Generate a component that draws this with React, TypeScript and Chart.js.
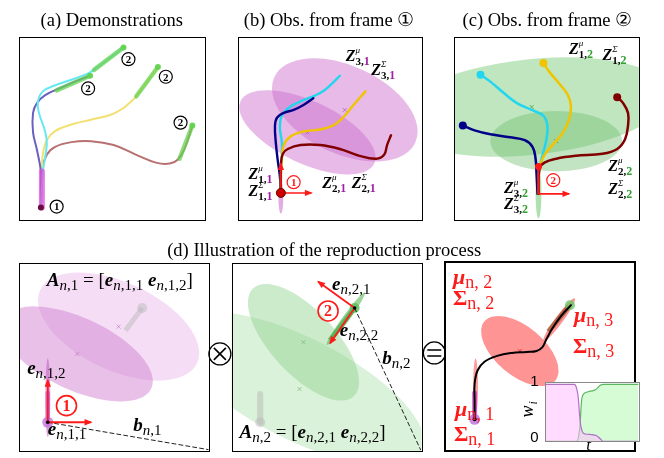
import React, { useEffect, useRef } from "react";
import { Chart, registerables } from "chart.js";

Chart.register(...registerables);

type P = [number, number];
type Seg2 = [P, P];
type Ell = [number, number, number, number, number]; // cx, cy, semi-major, semi-minor, angle(deg)

const W = 664;
const H = 458;

// ---------------- (a) demonstrations ----------------
const demoBrown: P[] = [[36,207],[37,186],[37,168],[42,153],[50,145],[67,140],[87,139],[110,143],[133,153],[153,161],[167,162],[175,158],[182,147],[190,123]];
const demoYellow: P[] = [[36,207],[37,186],[37,168],[38,152],[42,138],[50,129],[67,122],[87,117],[107,112],[120,105],[128,98],[133,93],[155,63]];
const demoBlue: P[] = [[36,207],[36,186],[36,170],[32,148],[28,130],[28,110],[32,100],[40,92],[57,84],[73,77],[86,72]];
const demoCyan: P[] = [[36,207],[37,186],[38,170],[42,142],[40,128],[34,110],[33,98],[38,88],[50,82],[70,75],[83,70],[90,66],[120,43]];
const demoStartSeg: P[] = [[37,170],[37,207]];
const demoEndSegs: Seg2[] = [[[90,66],[120,43]],[[52,87],[86,72]],[[133,93],[155,63]],[[177,157],[190,123]]];
const demoEndDots: P[] = [[120,43],[86,72],[155,63],[190,123]];
const demoStartDot: P[] = [[36,207]];

// ---------------- (b) observed from frame 1 ----------------
const obs1Navy: P[] = [[280,192],[279,175],[277,160],[275,142],[274,124],[276,115],[283,110],[293,107],[303,102],[313,95]];
const obs1Cyan: P[] = [[280,192],[280,175],[281,155],[281,140],[279,125],[281,113],[289,104],[303,97],[315,92],[324,87],[332,80],[340,72]];
const obs1Yellow: P[] = [[280,192],[280,175],[281,158],[283,143],[290,134],[303,129],[320,127],[333,123],[343,115],[353,103],[366,88]];
const obs1Red: P[] = [[280,192],[280,175],[280,163],[282,152],[287,147],[300,143],[320,143],[340,147],[360,154],[377,157],[385,153],[388,143],[392,133]];
const ellipsesB: Ell[] = [[345,107,79,45,25],[307,130,75,32,25],[280,197,16,2.5,90]];
const centersB: P[] = [[345,107],[307,130]];
const frameAxesB: Seg2[] = [[[280,192],[280,162]],[[280,192],[311,192]]];
const originB: P[] = [[280,192]];

// ---------------- (c) observed from frame 2 ----------------
const obs2Navy: P[] = [[465,123],[477,128],[493,132],[513,135],[528,138],[536,145],[539,157],[540,173],[541,193]];
const obs2Cyan: P[] = [[483,71],[493,78],[507,90],[520,100],[535,107],[547,113],[551,123],[550,137],[547,150],[544,162],[542,176],[542,193]];
const obs2Yellow: P[] = [[547,59],[553,68],[563,80],[572,92],[575,104],[573,117],[567,130],[557,142],[548,153],[544,163],[542,176],[542,193]];
const obs2Red: P[] = [[622,94],[628,100],[633,110],[633,123],[630,137],[622,147],[607,152],[580,154],[560,157],[548,161],[543,167],[542,193]];
const ellipsesC: Ell[] = [[535,104,140,49,-6],[560,139,67,31,0],[542,192,26,3,90]];
const centersC: P[] = [[535,104],[560,139]];
const frameAxesC: Seg2[] = [[[542,193],[542,166]],[[542,193],[573,193]]];
const originC: P[] = [[542,165]];

// ---------------- (d) reproduction ----------------
const ellipsesD1: Ell[] = [[115,329,88,45,25],[73,357,83,37,25],[43,402,40,2.5,90]];
const centersD1: P[] = [[115,329],[73,357]];
const ghostD1: P[] = [[139,310],[122,333]];
const ghostDotD1: P[] = [[139,310]];
const segD1: P[] = [[43,397],[43,427]];
const originD1: P[] = [[43,427]];
const frameAxesD1: Seg2[] = [[[43,427],[43,384]],[[43,427],[87,427]]];
const dashD1: P[] = [[43,427],[206,455]];

const ellipsesD2: Ell[] = [[299,393,140,52,27],[303,345,75,33,47],[346,321,33,3.5,-54]];
const centersD2: P[] = [[299,393],[303,345]];
const ghostD2: P[] = [[259,398],[259,427]];
const ghostDotD2: P[] = [[259,427]];
const segD2: P[] = [[330,343],[355,310]];
const originD2: P[] = [[355,310]];
const frameAxesD2: Seg2[] = [[[355,310],[318,283]],[[355,310],[330,346]]];
const dashD2: P[] = [[355,310],[422,455]];

const ellipsesD3: Ell[] = [[523,354,47,25,40],[563,322,27,4,-54],[478,390,28,2.5,90]];
const centersD3: P[] = [[523,354]];
const repro: P[] = [[477,424],[477,405],[477,388],[480,374],[487,365],[500,359],[515,356],[530,355],[540,354],[546,350],[550,342],[556,331],[565,318],[575,307]];
const segStartD3: P[] = [[477,397],[477,423]];
const segEndD3: P[] = [[552,334],[573,308]];
const startDotD3: P[] = [[477,424]];
const endDotD3: P[] = [[574,307]];

// ---------------- inset: activation weights ----------------
const weightT1 = [0, 0.314, 0.339, 0.357, 0.368, 0.382, 0.4, 0.429, 0.5, 0.554, 0.589, 0.625, 1];
const weight1 = [1, 1, 0.93, 0.76, 0.52, 0.29, 0.17, 0.13, 0.12, 0.1, 0.05, 0, 0];
const weightT2 = [0, 0.339, 0.357, 0.375, 0.393, 0.421, 0.464, 0.518, 0.554, 0.589, 0.625, 1];
const weight2 = [0, 0, 0.06, 0.29, 0.73, 0.84, 0.87, 0.89, 0.92, 0.98, 1, 1];

// ---------------- layout ----------------
const PANELS: [number, number, number, number][] = [
  [14, 32, 203, 219],
  [236, 32, 423, 219],
  [456, 32, 644, 219],
  [14, 264, 207, 457],
  [230, 264, 423, 457],
  [447, 263, 640, 457],
];

const SERIF = '"Liberation Serif","DejaVu Serif",serif';
const SANS = '"Liberation Sans","DejaVu Sans",sans-serif';
const PURPLE = "#a020a8";
const GREEN = "#30a030";
const RED = "#ff1a1a";

const ELLIPSE_GROUPS = [
  { panel: 1, items: ellipsesB, fills: ["rgba(205,110,205,0.48)", "rgba(205,110,205,0.48)", "rgba(200,90,200,0.5)"], centers: centersB, mark: "rgba(170,80,170,0.8)" },
  { panel: 2, items: ellipsesC, fills: ["rgba(130,205,130,0.5)", "rgba(110,190,110,0.42)", "rgba(110,200,110,0.55)"], centers: centersC, mark: "rgba(60,150,60,0.9)" },
  { panel: 3, items: ellipsesD1, fills: ["rgba(225,160,225,0.35)", "rgba(210,130,210,0.5)", "rgba(200,100,200,0.6)"], centers: centersD1, mark: "rgba(190,120,190,0.8)" },
  { panel: 4, items: ellipsesD2, fills: ["rgba(150,215,150,0.35)", "rgba(140,210,140,0.45)", "rgba(90,185,90,0.6)"], centers: centersD2, mark: "rgba(110,180,110,0.8)" },
  { panel: 5, items: ellipsesD3, fills: ["rgba(255,60,60,0.55)", "rgba(255,60,60,0.55)", "rgba(255,60,60,0.5)"], centers: centersD3, mark: "rgba(220,30,30,0.9)" },
];

// arrows with heads: [segment, hasHead]
const ARROWS: [Seg2, boolean][] = [
  [frameAxesB[0], true], [frameAxesB[1], true],
  [frameAxesC[0], false], [frameAxesC[1], true],
  [frameAxesD1[0], true], [frameAxesD1[1], true],
  [frameAxesD2[0], true], [frameAxesD2[1], true],
];

const CIRCLED: [number, number, string, number, string][] = [
  [52, 206, "1", 6.5, "#000"],
  [125, 55, "2", 6.5, "#000"],
  [84, 85, "2", 6.5, "#000"],
  [163, 73, "2", 6.5, "#000"],
  [178, 120, "2", 6.5, "#000"],
  [293, 181, "1", 6.5, RED],
  [557, 179, "2", 6.5, RED],
  [62, 410, "1", 10, RED],
  [328, 313, "2", 10, RED],
];

const TITLES: [number, number, string][] = [
  [108, 21, "(a) Demonstrations"],
  [329, 21, "(b) Obs. from frame \u2460"],
  [551, 21, "(c) Obs. from frame \u2461"],
  [324, 257, "(d) Illustration of the reproduction process"],
];

// ---------------- rich text ----------------
type Run = { t: string; font: string; color: string; dy: number };
type Seg = Run | { stack: Run[][] };
const R = (t: string, font: string, color = "#000", dy = 0): Run => ({ t, font, color, dy });

function zLab(kind: string, i: string, frame: string, fc: string): Seg[] {
  return [
    R("Z", `bold italic 16px ${SERIF}`),
    { stack: [[R(kind, `italic 9px ${SERIF}`, "#000", -8)], [R(i + ",", `bold 11px ${SERIF}`, "#000", 4), R(frame, `bold 12px ${SERIF}`, fc, 4)]] },
  ];
}
function eLab(idx: string): Seg[] {
  return [R("e", `bold italic 19px ${SERIF}`), R("n", `italic 15px ${SERIF}`, "#000", 4), R(idx, `15px ${SERIF}`, "#000", 4)];
}
function bLab(idx: string): Seg[] {
  return [R("b", `bold italic 19px ${SERIF}`), R("n", `italic 15px ${SERIF}`, "#000", 4), R(idx, `15px ${SERIF}`, "#000", 4)];
}
function aLab(k: string): Seg[] {
  return [
    R("A", `bold italic 19px ${SERIF}`), R("n", `italic 15px ${SERIF}`, "#000", 4), R("," + k, `15px ${SERIF}`, "#000", 4),
    R(" = [", `19px ${SERIF}`),
    ...eLab("," + k + ",1"), R(" ", `19px ${SERIF}`), ...eLab("," + k + ",2"),
    R("]", `19px ${SERIF}`),
  ];
}
function redLab(sym: string, k: string, italic: boolean): Seg[] {
  return [R(sym, `${italic ? "bold italic" : "bold"} 22px ${SERIF}`, RED), R("n, " + k, `18px ${SERIF}`, RED, 4)];
}

const LABELS: [number, number, Seg[]][] = [
  [346, 57, zLab("\u03bc", "3", "1", PURPLE)],
  [372, 71, zLab("\u03a3", "3", "1", PURPLE)],
  [247, 178, zLab("\u03bc", "1", "1", PURPLE)],
  [247, 195, zLab("\u03a3", "1", "1", PURPLE)],
  [322, 187, zLab("\u03bc", "2", "1", PURPLE)],
  [352, 187, zLab("\u03a3", "2", "1", PURPLE)],
  [573, 50, zLab("\u03bc", "1", "2", GREEN)],
  [607, 56, zLab("\u03a3", "1", "2", GREEN)],
  [613, 170, zLab("\u03bc", "2", "2", GREEN)],
  [613, 193, zLab("\u03a3", "2", "2", GREEN)],
  [507, 192, zLab("\u03bc", "3", "2", GREEN)],
  [507, 209, zLab("\u03a3", "3", "2", GREEN)],
  [42, 287, aLab("1")],
  [22, 378, eLab(",1,2")],
  [43, 440, eLab(",1,1")],
  [130, 436, bLab(",1")],
  [332, 292, eLab(",2,1")],
  [340, 339, eLab(",2,2")],
  [383, 367, bLab(",2")],
  [238, 443, aLab("2")],
  [455, 285, redLab("\u03bc", "2", true)],
  [455, 307, redLab("\u03a3", "2", false)],
  [578, 324, redLab("\u03bc", "3", true)],
  [577, 356, redLab("\u03a3", "3", false)],
  [457, 421, redLab("\u03bc", "1", true)],
  [456, 446, redLab("\u03a3", "1", false)],
];

function drawRich(ctx: CanvasRenderingContext2D, x: number, y: number, segs: Seg[]) {
  ctx.textAlign = "left";
  ctx.textBaseline = "alphabetic";
  for (const s of segs) {
    if ("stack" in s) {
      let w = 0;
      for (const g of s.stack) {
        let gx = x;
        for (const r of g) {
          ctx.font = r.font; ctx.fillStyle = r.color;
          ctx.fillText(r.t, gx, y + r.dy);
          gx += ctx.measureText(r.t).width;
        }
        w = Math.max(w, gx - x);
      }
      x += w;
    } else {
      ctx.font = s.font; ctx.fillStyle = s.color;
      ctx.fillText(s.t, x, y + s.dy);
      x += ctx.measureText(s.t).width;
    }
  }
}

// ---------------- datasets ----------------
const pts = (a: P[]) => a.map(([x, y]) => ({ x, y }));

function buildDatasets() {
  const ds: any[] = [];
  const line = (data: P[], color: string, width: number, extra: any = {}) =>
    ds.push({ data: pts(data), showLine: true, borderColor: color, backgroundColor: color, borderWidth: width, pointRadius: 0, tension: 0.4, fill: false, borderCapStyle: "round", borderJoinStyle: "round", ...extra });
  const dots = (data: P[], color: string, r: number, stroke?: string) =>
    ds.push({ data: pts(data), showLine: false, pointRadius: r, pointBackgroundColor: color, pointBorderColor: stroke || color, pointBorderWidth: stroke ? 1 : 0 });
  const firstDot = (c: string) => ({ pointRadius: (c2: any) => (c2.dataIndex === 0 ? 4 : 0), pointBackgroundColor: c, pointBorderWidth: 0 });

  // (a)
  line(demoBrown, "#b87070", 2);
  line(demoYellow, "#f2e070", 2);
  line(demoBlue, "#6a60c0", 2);
  line(demoCyan, "#66e8f2", 2);
  line(demoStartSeg, "rgba(225,80,215,0.75)", 6, { tension: 0, borderCapStyle: "butt" });
  demoEndSegs.forEach((s) => line(s, "rgba(100,210,80,0.75)", 4.5, { tension: 0 }));
  dots(demoEndDots, "rgba(100,210,80,0.9)", 3);
  dots(demoStartDot, "#6a0a40", 3);

  // (b)
  line(obs1Cyan, "#22d6f0", 2.4);
  line(obs1Navy, "#000088", 2.4);
  line(obs1Yellow, "#f0c400", 2.4);
  line(obs1Red, "#800000", 2.4);
  frameAxesB.forEach((s) => line(s, RED, 1.5, { tension: 0, borderCapStyle: "butt" }));
  dots(originB, "#cc0000", 4.5, "#6a0000");

  // (c)
  line(obs2Navy, "#000088", 2.5, firstDot("#000088"));
  line(obs2Cyan, "#22d6f0", 2.5, firstDot("#22d6f0"));
  line(obs2Yellow, "#f0c400", 2.5, firstDot("#f0c400"));
  line(obs2Red, "#800000", 2.5, firstDot("#800000"));
  frameAxesC.forEach((s) => line(s, RED, 1.8, { tension: 0, borderCapStyle: "butt" }));
  dots(originC, RED, 3.5);

  // (d1)
  line(ghostD1, "rgba(185,185,185,0.5)", 5, { tension: 0, borderCapStyle: "butt" });
  dots(ghostDotD1, "rgba(185,185,185,0.5)", 5);
  line(segD1, "rgba(200,70,200,0.65)", 4.5, { tension: 0, borderCapStyle: "butt" });
  dots(originD1, "rgba(190,110,220,0.75)", 5.5);
  line(dashD1, "#222", 1, { tension: 0, borderDash: [4, 3] });
  frameAxesD1.forEach((s) => line(s, RED, 1.8, { tension: 0, borderCapStyle: "butt" }));
  dots(originD1, "#000", 1.8);

  // (d2)
  line(ghostD2, "rgba(185,185,185,0.5)", 6, { tension: 0, borderCapStyle: "butt" });
  dots(ghostDotD2, "rgba(185,185,185,0.5)", 5);
  line(segD2, "rgba(70,170,70,0.7)", 5, { tension: 0, borderCapStyle: "butt" });
  dots(originD2, "rgba(90,190,90,0.8)", 5);
  line(dashD2, "#222", 1, { tension: 0, borderDash: [4, 3] });
  frameAxesD2.forEach((s) => line(s, RED, 1.8, { tension: 0, borderCapStyle: "butt" }));
  dots(originD2, "#000", 1.8);

  // (d3)
  line(segStartD3, "rgba(200,50,200,0.7)", 5, { tension: 0, borderCapStyle: "butt" });
  line(segEndD3, "rgba(150,80,40,0.7)", 5, { tension: 0, borderCapStyle: "butt" });
  dots(startDotD3, "rgba(180,100,220,0.75)", 5.5);
  dots(endDotD3, "rgba(100,200,100,0.75)", 5);
  line(repro, "#000", 2);
  dots(startDotD3, "#000", 2);

  ds.forEach((d, i) => (d.order = -i));
  return ds;
}

function arrowHead(ctx: CanvasRenderingContext2D, x0: number, y0: number, x1: number, y1: number, color: string) {
  const a = Math.atan2(y1 - y0, x1 - x0);
  const len = 6.5, half = 3.2;
  ctx.beginPath();
  ctx.moveTo(x1 + Math.cos(a) * 1.5, y1 + Math.sin(a) * 1.5);
  ctx.lineTo(x1 - len * Math.cos(a) + half * Math.sin(a), y1 - len * Math.sin(a) - half * Math.cos(a));
  ctx.lineTo(x1 - len * Math.cos(a) - half * Math.sin(a), y1 - len * Math.sin(a) + half * Math.cos(a));
  ctx.closePath();
  ctx.fillStyle = color;
  ctx.fill();
}

const figurePlugin = {
  id: "figure",
  beforeDraw(chart: any) {
    const ctx = chart.ctx;
    ctx.save();
    ctx.fillStyle = "#fff";
    ctx.fillRect(0, 0, chart.width, chart.height);
    ctx.restore();
  },
  beforeDatasetsDraw(chart: any) {
    const ctx: CanvasRenderingContext2D = chart.ctx;
    const xs = chart.scales.x, ys = chart.scales.y;
    const X = (v: number) => xs.getPixelForValue(v);
    const Y = (v: number) => ys.getPixelForValue(v);
    for (const g of ELLIPSE_GROUPS) {
      const [x0, y0, x1, y1] = PANELS[g.panel];
      ctx.save();
      ctx.beginPath();
      ctx.rect(X(x0), Y(y0), X(x1) - X(x0), Y(y1) - Y(y0));
      ctx.clip();
      g.items.forEach(([cx, cy, a, b, ang], i) => {
        ctx.beginPath();
        ctx.ellipse(X(cx), Y(cy), Math.abs(X(cx + a) - X(cx)), Math.abs(Y(cy + b) - Y(cy)), (ang * Math.PI) / 180, 0, Math.PI * 2);
        ctx.fillStyle = g.fills[i];
        ctx.fill();
      });
      ctx.strokeStyle = g.mark;
      ctx.lineWidth = 0.8;
      for (const [cx, cy] of g.centers) {
        const px = X(cx), py = Y(cy);
        ctx.beginPath();
        ctx.moveTo(px - 2, py - 2); ctx.lineTo(px + 2, py + 2);
        ctx.moveTo(px + 2, py - 2); ctx.lineTo(px - 2, py + 2);
        ctx.stroke();
      }
      ctx.restore();
    }
  },
  afterDatasetsDraw(chart: any) {
    const ctx: CanvasRenderingContext2D = chart.ctx;
    const xs = chart.scales.x, ys = chart.scales.y;
    const X = (v: number) => xs.getPixelForValue(v);
    const Y = (v: number) => ys.getPixelForValue(v);
    ctx.save();
    for (const [[a, b], head] of ARROWS) {
      if (head) arrowHead(ctx, X(a[0]), Y(a[1]), X(b[0]), Y(b[1]), RED);
    }
    for (const [cx, cy, t, r, col] of CIRCLED) {
      ctx.beginPath();
      ctx.arc(X(cx), Y(cy), r, 0, Math.PI * 2);
      ctx.strokeStyle = col;
      ctx.lineWidth = r > 8 ? 1.6 : 1.2;
      ctx.stroke();
      ctx.fillStyle = col;
      ctx.font = `bold ${r > 8 ? 16 : 11}px ${SERIF}`;
      ctx.textAlign = "center";
      ctx.textBaseline = "middle";
      ctx.fillText(t, X(cx), Y(cy) + 1);
    }
    for (const [x, y, segs] of LABELS) drawRich(ctx, X(x), Y(y), segs);

    ctx.fillStyle = "#000";
    ctx.font = `18.5px ${SERIF}`;
    ctx.textAlign = "center";
    ctx.textBaseline = "alphabetic";
    for (const [x, y, t] of TITLES) ctx.fillText(t, X(x), Y(y));

    // operators
    const op = (cx: number, cy: number, kind: string) => {
      const px = X(cx), py = Y(cy);
      ctx.beginPath();
      ctx.arc(px, py, 11, 0, Math.PI * 2);
      ctx.fillStyle = "#fff"; ctx.fill();
      ctx.strokeStyle = "#000"; ctx.lineWidth = 1.3; ctx.stroke();
      ctx.beginPath();
      if (kind === "x") {
        ctx.moveTo(px - 6, py - 6); ctx.lineTo(px + 6, py + 6);
        ctx.moveTo(px + 6, py - 6); ctx.lineTo(px - 6, py + 6);
      } else {
        ctx.moveTo(px - 7, py - 3); ctx.lineTo(px + 7, py - 3);
        ctx.moveTo(px - 7, py + 3); ctx.lineTo(px + 7, py + 3);
      }
      ctx.lineWidth = 1.6; ctx.stroke();
    };
    op(218, 357, "x");
    op(436, 356, "=");

    // inset axis labels
    ctx.fillStyle = "#000";
    ctx.font = `15px ${SANS}`;
    ctx.textAlign = "right";
    ctx.fillText("1", X(542), Y(390));
    ctx.fillText("0", X(542), Y(447));
    ctx.textAlign = "center";
    ctx.font = `italic 17px ${SERIF}`;
    ctx.fillText("t", X(593), Y(455));
    ctx.save();
    ctx.translate(X(536), Y(413));
    ctx.rotate(-Math.PI / 2);
    ctx.textAlign = "left";
    ctx.font = `italic 18px ${SERIF}`;
    ctx.fillText("w", -9, 0);
    ctx.font = `italic 12px ${SERIF}`;
    ctx.fillText("i", 4, 4);
    ctx.restore();

    // panel borders
    PANELS.forEach(([x0, y0, x1, y1], i) => {
      ctx.strokeStyle = "#000";
      ctx.lineWidth = i === 5 ? 2 : 1;
      const o = i === 5 ? 0 : 0.5;
      ctx.strokeRect(Math.round(X(x0)) + o, Math.round(Y(y0)) + o, Math.round(X(x1) - X(x0)), Math.round(Y(y1) - Y(y0)));
    });
    ctx.restore();
  },
};

const insetPlugin = {
  id: "insetFrame",
  beforeDraw(chart: any) {
    const ctx = chart.ctx;
    ctx.save();
    ctx.fillStyle = "#fff";
    ctx.fillRect(0, 0, chart.width, chart.height);
    ctx.restore();
  },
  afterDraw(chart: any) {
    const ctx = chart.ctx;
    ctx.save();
    ctx.strokeStyle = "#888";
    ctx.lineWidth = 1;
    ctx.strokeRect(0.5, 0.5, chart.width - 1, chart.height - 1);
    ctx.restore();
  },
};

export default function App() {
  const mainRef = useRef<HTMLCanvasElement>(null);
  const insetRef = useRef<HTMLCanvasElement>(null);

  useEffect(() => {
    const main = new Chart(mainRef.current as HTMLCanvasElement, {
      type: "scatter",
      data: { datasets: buildDatasets() },
      options: {
        responsive: false,
        animation: false,
        events: [],
        layout: { padding: 0 },
        plugins: { legend: { display: false }, tooltip: { enabled: false } },
        scales: {
          x: { type: "linear", min: 0, max: W, display: false },
          y: { type: "linear", min: 0, max: H, reverse: true, display: false },
        },
      },
      plugins: [figurePlugin],
    } as any);

    const inset = new Chart(insetRef.current as HTMLCanvasElement, {
      type: "scatter",
      data: {
        datasets: [
          {
            data: weightT2.map((t, i) => ({ x: t, y: weight2[i] })),
            showLine: true, pointRadius: 0, borderWidth: 1.2,
            borderColor: "#5cb85c", backgroundColor: "rgba(185,250,185,0.6)",
            fill: "origin", cubicInterpolationMode: "monotone", order: 1,
          },
          {
            data: weightT1.map((t, i) => ({ x: t, y: weight1[i] })),
            showLine: true, pointRadius: 0, borderWidth: 1.2,
            borderColor: "#b070c8", backgroundColor: "rgba(255,190,255,0.55)",
            fill: "origin", cubicInterpolationMode: "monotone", order: 0,
          },
        ],
      },
      options: {
        responsive: false,
        animation: false,
        events: [],
        layout: { padding: 0 },
        plugins: { legend: { display: false }, tooltip: { enabled: false } },
        scales: {
          x: { type: "linear", min: 0, max: 1.018, display: false },
          y: { type: "linear", min: -0.01, max: 1.04, display: false },
        },
      },
      plugins: [insetPlugin],
    } as any);

    return () => {
      main.destroy();
      inset.destroy();
    };
  }, []);

  return (
    <div style={{ position: "absolute", left: 0, top: 0, width: W, height: H, background: "#fff" }}>
      <canvas ref={mainRef} width={W} height={H} style={{ position: "absolute", left: 0, top: 0, width: W, height: H }} />
      <canvas ref={insetRef} width={95} height={60} style={{ position: "absolute", left: 545, top: 382, width: 95, height: 60 }} />
    </div>
  );
}
